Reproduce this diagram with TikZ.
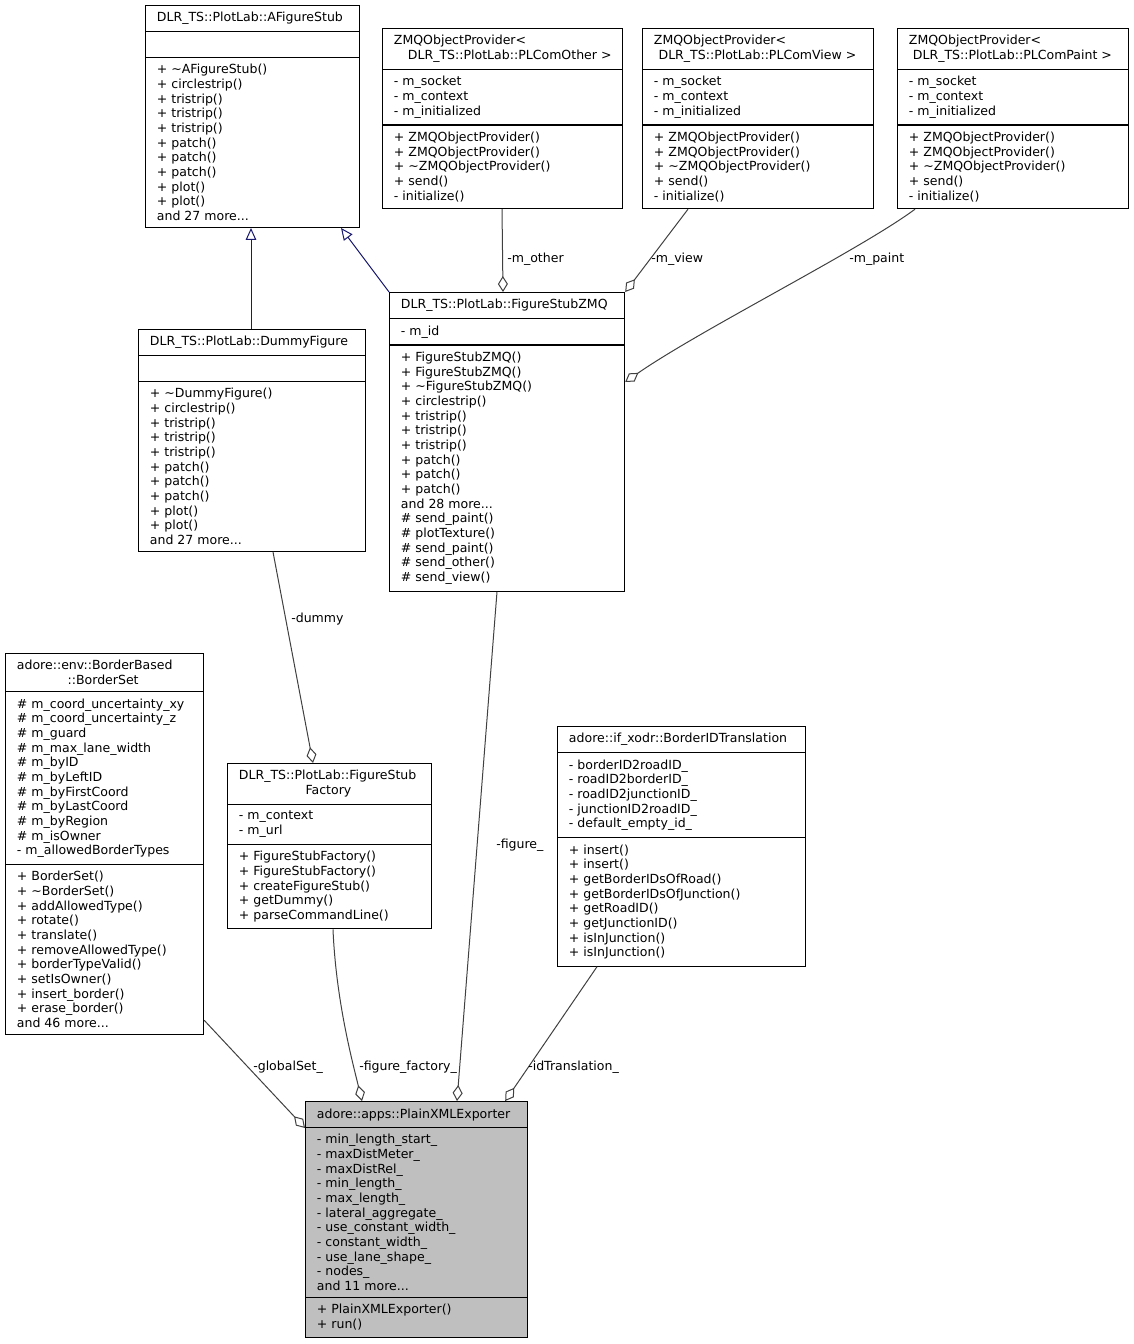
\documentclass[tikz,border=0pt]{standalone}
\usepackage{fontspec}
\setmainfont{DejaVu Sans}
\usetikzlibrary{arrows.meta,calc,shapes.multipart}

\definecolor{edgegray}{HTML}{404040}
\definecolor{inhblue}{HTML}{191970}
\definecolor{focusgray}{HTML}{BFBFBF}

\tikzset{
  umlclass/.style={draw, line width=0.9pt, rectangle split, rectangle split parts=3,
    rectangle split part align=left, align=left, anchor=north west,
    inner xsep=8.5pt, inner ysep=4.7pt, font=\fontsize{9.4}{11}\selectfont},
  aggr/.style={edgegray, line width=0.75pt, -{Diamond[open, length=12pt, width=7.5pt]}},
  inherit/.style={inhblue, line width=0.75pt, -{Triangle[open, length=9pt, width=8pt]}},
  rolelabel/.style={anchor=west, inner sep=0pt, font=\fontsize{9.4}{11}\selectfont},
}

\begin{document}
\begin{tikzpicture}[x=0.75pt, y=-0.75pt]
  \useasboundingbox (0,0) rectangle (1133,1344);

  % top row
  \node[umlclass, minimum width=160.5pt] (afs) at (145,5) {DLR\_TS::PlotLab::AFigureStub
    \nodepart{two}\vphantom{Ag}
    \nodepart{three}+ \textasciitilde AFigureStub()\\+ circlestrip()\\+ tristrip()\\+ tristrip()\\+ tristrip()\\+ patch()\\+ patch()\\+ patch()\\+ plot()\\+ plot()\\and 27 more...};
  \node[umlclass, minimum width=176.25pt] (zother) at (382,28) {ZMQObjectProvider<\\\hspace*{10.5pt}DLR\_TS::PlotLab::PLComOther >
    \nodepart{two}- m\_socket\\- m\_context\\- m\_initialized
    \nodepart{three}+ ZMQObjectProvider()\\+ ZMQObjectProvider()\\+ \textasciitilde ZMQObjectProvider()\\+ send()\\- initialize()};
  \node[umlclass, minimum width=173.25pt] (zview) at (642,28) {ZMQObjectProvider<\\\hspace*{3.5pt}DLR\_TS::PlotLab::PLComView >
    \nodepart{two}- m\_socket\\- m\_context\\- m\_initialized
    \nodepart{three}+ ZMQObjectProvider()\\+ ZMQObjectProvider()\\+ \textasciitilde ZMQObjectProvider()\\+ send()\\- initialize()};
  \node[umlclass, minimum width=173.25pt] (zpaint) at (897,28) {ZMQObjectProvider<\\\hspace*{3pt}DLR\_TS::PlotLab::PLComPaint >
    \nodepart{two}- m\_socket\\- m\_context\\- m\_initialized
    \nodepart{three}+ ZMQObjectProvider()\\+ ZMQObjectProvider()\\+ \textasciitilde ZMQObjectProvider()\\+ send()\\- initialize()};

  % middle row
  \node[umlclass, minimum width=170.25pt] (dummy) at (138,329) {DLR\_TS::PlotLab::DummyFigure
    \nodepart{two}\vphantom{Ag}
    \nodepart{three}+ \textasciitilde DummyFigure()\\+ circlestrip()\\+ tristrip()\\+ tristrip()\\+ tristrip()\\+ patch()\\+ patch()\\+ patch()\\+ plot()\\+ plot()\\and 27 more...};
  \node[umlclass, minimum width=176.25pt] (fzmq) at (389,292) {DLR\_TS::PlotLab::FigureStubZMQ
    \nodepart{two}- m\_id
    \nodepart{three}+ FigureStubZMQ()\\+ FigureStubZMQ()\\+ \textasciitilde FigureStubZMQ()\\+ circlestrip()\\+ tristrip()\\+ tristrip()\\+ tristrip()\\+ patch()\\+ patch()\\+ patch()\\and 28 more...\\\# send\_paint()\\\# plotTexture()\\\# send\_paint()\\\# send\_other()\\\# send\_view()};

  % lower row
  \node[umlclass, minimum width=148.5pt] (bset) at (5,653) {adore::env::BorderBased\\\hspace*{38pt}::BorderSet
    \nodepart{two}\# m\_coord\_uncertainty\_xy\\\# m\_coord\_uncertainty\_z\\\# m\_guard\\\# m\_max\_lane\_width\\\# m\_byID\\\# m\_byLeftID\\\# m\_byFirstCoord\\\# m\_byLastCoord\\\# m\_byRegion\\\# m\_isOwner\\- m\_allowedBorderTypes
    \nodepart{three}+ BorderSet()\\+ \textasciitilde BorderSet()\\+ addAllowedType()\\+ rotate()\\+ translate()\\+ removeAllowedType()\\+ borderTypeValid()\\+ setIsOwner()\\+ insert\_border()\\+ erase\_border()\\and 46 more...};
  \node[umlclass, minimum width=153pt] (factory) at (227,763) {DLR\_TS::PlotLab::FigureStub\\\hspace*{50pt}Factory
    \nodepart{two}- m\_context\\- m\_url
    \nodepart{three}+ FigureStubFactory()\\+ FigureStubFactory()\\+ createFigureStub()\\+ getDummy()\\+ parseCommandLine()};
  \node[umlclass, minimum width=186pt] (idtrans) at (557,726) {adore::if\_xodr::BorderIDTranslation
    \nodepart{two}- borderID2roadID\_\\- roadID2borderID\_\\- roadID2junctionID\_\\- junctionID2roadID\_\\- default\_empty\_id\_
    \nodepart{three}+ insert()\\+ insert()\\+ getBorderIDsOfRoad()\\+ getBorderIDsOfJunction()\\+ getRoadID()\\+ getJunctionID()\\+ isInJunction()\\+ isInJunction()};

  % the class itself
  \node[umlclass, fill=focusgray, minimum width=166.5pt] (pxe) at (305,1101) {adore::apps::PlainXMLExporter
    \nodepart{two}- min\_length\_start\_\\- maxDistMeter\_\\- maxDistRel\_\\- min\_length\_\\- max\_length\_\\- lateral\_aggregate\_\\- use\_constant\_width\_\\- constant\_width\_\\- use\_lane\_shape\_\\- nodes\_\\and 11 more...
    \nodepart{three}+ PlainXMLExporter()\\+ run()};

  % inheritance
  \draw[inherit] ($(dummy.north west)+(113,0)$) -- ($(afs.south west)+(106,0)$);
  \draw[inherit] (fzmq.north west) -- ($(afs.south west)+(196,0)$);

  % members
  \draw[aggr] ($(zother.south west)+(120,0)$) -- ($(fzmq.north west)+(114,0)$);
  \node[rolelabel] (lother) at (507,259) {-m\_other};
  \draw[aggr] ($(zview.south west)+(46,0)$) -- (fzmq.north east);
  \node[rolelabel] (lview) at (651,259) {-m\_view};
  \draw[aggr] ($(zpaint.south west)+(18,0)$) .. controls (860,250) and (700,330) .. ($(fzmq.north east)+(0,90)$);
  \node[rolelabel] (lpaint) at (849,259) {-m\_paint};
  \draw[aggr] ($(dummy.south west)+(135,0)$) -- ($(factory.north west)+(86,0)$);
  \node[rolelabel] (ldummy) at (291,619) {-dummy};
  \draw[aggr] ($(fzmq.south west)+(108,0)$) -- ($(pxe.north west)+(152,0)$);
  \node[rolelabel] (lfigure) at (496,845) {-figure\_};
  \draw[aggr] ($(bset.south east)+(0,-15)$) -- ($(pxe.north west)+(0,27)$);
  \node[rolelabel] (lglobal) at (253,1067) {-globalSet\_};
  \draw[aggr] ($(factory.south west)+(106,0)$) .. controls (336,1000) and (352,1060) .. ($(pxe.north west)+(57,0)$);
  \node[rolelabel] (lfactory) at (359,1067) {-figure\_factory\_};
  \draw[aggr] ($(idtrans.south west)+(40,0)$) -- ($(pxe.north east)+(-23,0)$);
  \node[rolelabel] (lidtrans) at (528,1067) {-idTranslation\_};
\end{tikzpicture}
\end{document}
